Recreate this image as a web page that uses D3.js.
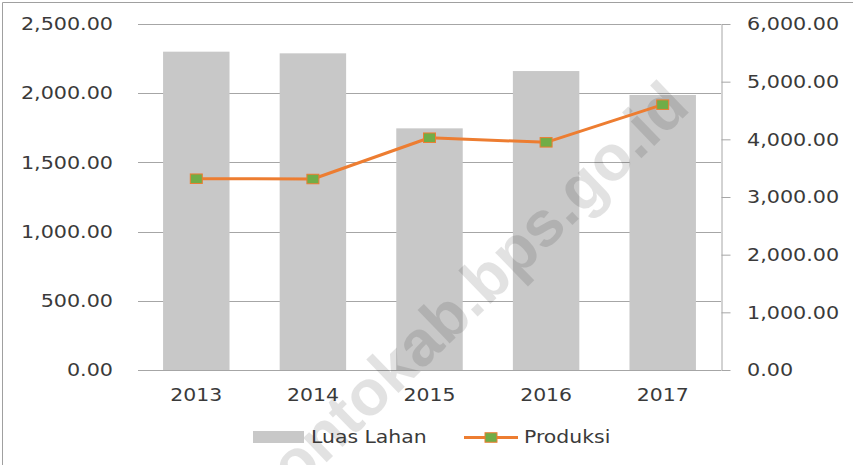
<!DOCTYPE html>
<html>
<head>
<meta charset="utf-8">
<script src="https://cdn.jsdelivr.net/npm/d3@7"></script>
<style>
  body { margin: 0; background: #fff; }
  text { font-family: "DejaVu Sans", sans-serif; fill: #3a3a3a; }
</style>
</head>
<body>
<svg class="chart" width="853" height="465"></svg>
<script>
// ---- Data ----
const years = ["2013", "2014", "2015", "2016", "2017"];
const luasLahan = [2300, 2288, 1746, 2160, 1987];   // bars, left axis
const produksi = [3317, 3312, 4028, 3948, 4601];    // line, right axis
const leftTicks = [0, 500, 1000, 1500, 2000, 2500];
const rightTicks = [0, 1000, 2000, 3000, 4000, 5000, 6000];
const seriesNames = ["Luas Lahan", "Produksi"];
const watermark = "jenepontokab.bps.go.id";

const barColor = "#c8c8c8",
      lineColor = "#ed7d31",
      markerFill = "#70ad47",
      gridColor = "#a6a6a6";

const svg = d3.select("svg.chart");

// plot box
const plotL = 138, plotR = 721, plotT = 24, plotB = 370;

const x = d3.scaleBand()
    .domain(years)
    .range([plotL, plotR])
    .paddingInner(0.43)
    .paddingOuter(0.215);
const yL = d3.scaleLinear().domain([0, 2500]).range([plotB, plotT]);
const yR = d3.scaleLinear().domain([0, 6000]).range([plotB, plotT]);
const fmt = d3.format(",.2f");
const cx = d => x(d) + x.bandwidth() / 2;

// the source picture is stretched sideways, so widen the text the same way
function stretch(sel, sx) {
    sel.each(function () {
        const t = d3.select(this);
        const x0 = +t.attr("x") || 0;
        t.attr("x", x0 / sx).attr("transform", `scale(${sx},1)`);
    });
}

// outer frame (only top + left edges show in the crop)
svg.append("path")
    .attr("d", "M2.5,465V2.5H853")
    .attr("fill", "none")
    .attr("stroke", "#a0a0a0");

// gridlines from the left axis
svg.append("g")
    .selectAll("line")
    .data(leftTicks)
    .join("line")
    .attr("x1", plotL).attr("x2", plotR)
    .attr("y1", d => Math.round(yL(d)) + 0.5)
    .attr("y2", d => Math.round(yL(d)) + 0.5)
    .attr("stroke", gridColor);

// bars
svg.append("g")
    .selectAll("rect")
    .data(years)
    .join("rect")
    .attr("x", d => x(d))
    .attr("width", x.bandwidth())
    .attr("y", (d, i) => yL(luasLahan[i]))
    .attr("height", (d, i) => plotB - yL(luasLahan[i]))
    .attr("fill", barColor);

// watermark
svg.append("text")
    .attr("transform", "translate(422,347) rotate(-44)")
    .attr("text-anchor", "middle")
    .attr("dy", "0.26em")
    .style("font-family", "'Liberation Sans', Arial, sans-serif")
    .style("font-weight", "bold")
    .style("font-size", "64px")
    .style("fill", "#000")
    .style("opacity", 0.11)
    .text(watermark);

// left axis: labels only
const axL = svg.append("g")
    .attr("transform", `translate(${plotL},0)`)
    .call(d3.axisLeft(yL).tickValues(leftTicks).tickFormat(fmt).tickSize(0).tickPadding(25));
axL.select(".domain").remove();

// right axis with line and outward ticks
const axR = svg.append("g")
    .attr("transform", `translate(${plotR + 0.5},0)`)
    .call(d3.axisRight(yR).tickValues(rightTicks).tickFormat(fmt).tickSize(9).tickSizeOuter(0).tickPadding(16.5));
axR.select(".domain").attr("stroke", gridColor);
axR.selectAll(".tick line").attr("stroke", gridColor);

// bottom axis: year labels
const axB = svg.append("g")
    .attr("transform", `translate(0,${plotB})`)
    .call(d3.axisBottom(x).tickSize(0).tickPadding(19));
axB.select(".domain").remove();

svg.selectAll(".tick text").attr("fill", null);
axL.selectAll(".tick text").style("font-size", "18px").call(stretch, 1.15);
axR.selectAll(".tick text").style("font-size", "18px").call(stretch, 1.15);
axB.selectAll(".tick text").style("font-size", "17px").call(stretch, 1.2);

// line series
svg.append("path")
    .datum(produksi)
    .attr("d", d3.line().x((d, i) => cx(years[i])).y(d => yR(d)))
    .attr("fill", "none")
    .attr("stroke", lineColor)
    .attr("stroke-width", 3)
    .attr("stroke-linejoin", "round");

svg.append("g")
    .selectAll("rect")
    .data(produksi)
    .join("rect")
    .attr("x", (d, i) => cx(years[i]) - 6)
    .attr("y", d => yR(d) - 4.75)
    .attr("width", 12)
    .attr("height", 9.5)
    .attr("fill", markerFill)
    .attr("stroke", lineColor)
    .attr("stroke-width", 1);

// legend
const legend = svg.append("g");
legend.append("rect")
    .attr("x", 253).attr("y", 431)
    .attr("width", 51).attr("height", 12)
    .attr("fill", barColor);
legend.append("text")
    .attr("x", 311).attr("y", 442.7)
    .style("font-size", "17px")
    .text(seriesNames[0]);
legend.append("line")
    .attr("x1", 464).attr("x2", 518)
    .attr("y1", 437.5).attr("y2", 437.5)
    .attr("stroke", lineColor)
    .attr("stroke-width", 3);
legend.append("rect")
    .attr("x", 485).attr("y", 432.75)
    .attr("width", 12).attr("height", 9.5)
    .attr("fill", markerFill)
    .attr("stroke", lineColor);
legend.append("text")
    .attr("x", 524).attr("y", 442.7)
    .style("font-size", "17px")
    .text(seriesNames[1]);
legend.selectAll("text").call(stretch, 1.2);
</script>
</body>
</html>
